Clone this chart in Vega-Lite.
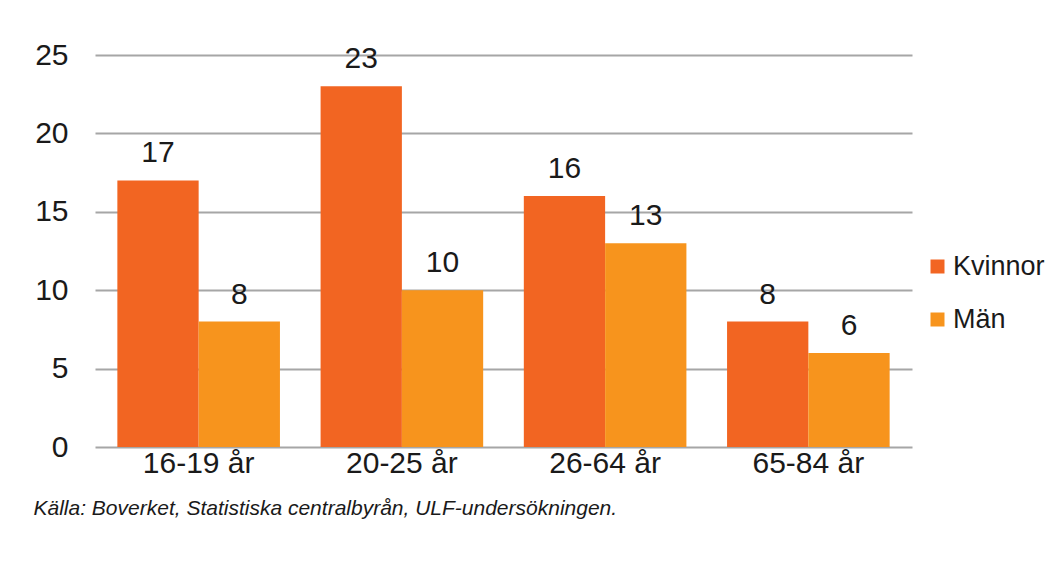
{
  "$schema": "https://vega.github.io/schema/vega-lite/v6.json",
  "width": 817,
  "height": 392,
  "autosize": {"type": "none"},
  "padding": {"left": 95, "top": 55, "right": 146, "bottom": 115},
  "background": "white",
  "config": {
    "font": "Liberation Sans",
    "view": {"stroke": null}
  },
  "data": {
    "values": [
      {"age": "16-19 år", "kon": "Kvinnor", "value": 17},
      {"age": "16-19 år", "kon": "Män", "value": 8},
      {"age": "20-25 år", "kon": "Kvinnor", "value": 23},
      {"age": "20-25 år", "kon": "Män", "value": 10},
      {"age": "26-64 år", "kon": "Kvinnor", "value": 16},
      {"age": "26-64 år", "kon": "Män", "value": 13},
      {"age": "65-84 år", "kon": "Kvinnor", "value": 8},
      {"age": "65-84 år", "kon": "Män", "value": 6}
    ]
  },
  "encoding": {
    "x": {
      "field": "age", "type": "nominal",
      "scale": {"paddingInner": 0.2, "paddingOuter": 0.11},
      "axis": {
        "title": "Källa: Boverket, Statistiska centralbyrån, ULF-undersökningen.",
        "titleFont": "Liberation Sans",
        "titleFontStyle": "italic",
        "titleFontWeight": "normal",
        "titleFontSize": 21,
        "titleColor": "#1a1a1a",
        "titleAlign": "left",
        "titleBaseline": "middle",
        "titleAnchor": "start",
        "titleX": -62,
        "titleY": 61,
        "labelAngle": 0,
        "labelFontSize": 30,
        "labelColor": "#1a1a1a",
        "labelBaseline": "middle",
        "labelPadding": 16,
        "ticks": false,
        "domain": false
      }
    },
    "xOffset": {"field": "kon", "type": "nominal", "sort": ["Kvinnor", "Män"]},
    "y": {
      "field": "value", "type": "quantitative",
      "scale": {"domain": [0, 25], "nice": false},
      "axis": {
        "title": null,
        "values": [0, 5, 10, 15, 20, 25],
        "labelFontSize": 30,
        "labelColor": "#1a1a1a",
        "labelPadding": 27,
        "ticks": false,
        "domain": false,
        "gridColor": "#a6a6a6",
        "gridWidth": 2,
        "gridOpacity": 1
      }
    }
  },
  "layer": [
    {
      "mark": {"type": "bar"},
      "encoding": {
        "color": {
          "field": "kon", "type": "nominal",
          "scale": {"domain": ["Kvinnor", "Män"], "range": ["#f26522", "#f7941d"]},
          "legend": {
            "title": null,
            "orient": "none",
            "legendX": 829,
            "legendY": 198,
            "symbolType": "square",
            "symbolSize": 196,
            "symbolStrokeWidth": 0,
            "labelFontSize": 27,
            "labelColor": "#1a1a1a",
            "labelOffset": 2,
            "rowPadding": 25
          }
        }
      }
    },
    {
      "mark": {"type": "text", "baseline": "alphabetic", "dy": -18, "fontSize": 30, "color": "#1a1a1a"},
      "encoding": {
        "text": {"field": "value", "type": "quantitative"}
      }
    }
  ]
}
